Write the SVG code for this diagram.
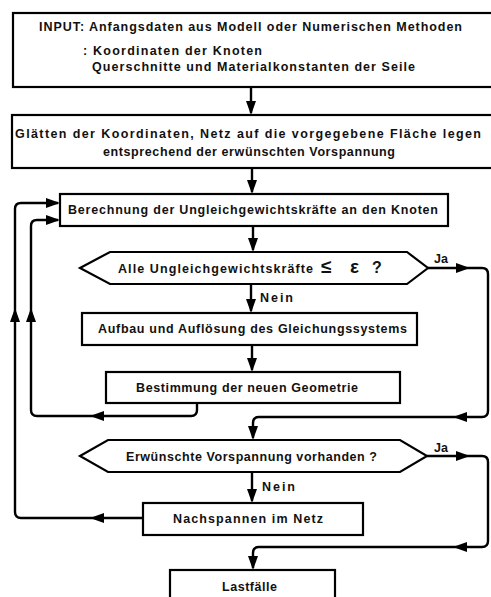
<svg xmlns="http://www.w3.org/2000/svg" xmlns:xlink="http://www.w3.org/1999/xlink" width="491" height="597" viewBox="0 0 491 597">
<style>
.box{fill:#fff;stroke:#000;stroke-width:2.2}
.ln{fill:none;stroke:#000;stroke-width:2.4;stroke-linejoin:round}
.t{font-family:"Liberation Sans",Arial,sans-serif;font-size:12.5px;font-weight:bold;fill:#111}
</style>
<defs>
<path id="ah" d="M0,0 L-14,-5 L-14,5 Z" fill="#000"/>
</defs>
<rect width="491" height="597" fill="#fff"/>
<g id="connectors">
<path class="ln" d="M251,87 V113"/>
<path class="ln" d="M252,168 V192"/>
<path class="ln" d="M253,226 V250"/>
<path class="ln" d="M251,284 V311"/>
<path class="ln" d="M252,345 V370"/>
<path class="ln" d="M252,472 V501"/>
<path class="ln" d="M428,268 H482 Q488,268 488,274 V411 Q488,417 482,417 H259 Q253,417 253,423 V438"/>
<path class="ln" d="M197,403 V410 Q197,416 191,416 H37 Q31,416 31,410 V226 Q31,220 37,220 H58"/>
<path class="ln" d="M143,518 H21 Q15,518 15,512 V209 Q15,203 21,203 H58"/>
<path class="ln" d="M427,456 H482 Q488,456 488,462 V541 Q488,547 482,547 H259 Q253,547 253,553 V568"/>
<use xlink:href="#ah" transform="translate(251,115) rotate(90)"/>
<use xlink:href="#ah" transform="translate(252,194) rotate(90)"/>
<use xlink:href="#ah" transform="translate(253,252) rotate(90)"/>
<use xlink:href="#ah" transform="translate(251,313) rotate(90)"/>
<use xlink:href="#ah" transform="translate(252,372) rotate(90)"/>
<use xlink:href="#ah" transform="translate(252,503) rotate(90)"/>
<use xlink:href="#ah" transform="translate(253,440) rotate(90)"/>
<use xlink:href="#ah" transform="translate(253,570) rotate(90)"/>
<use xlink:href="#ah" transform="translate(470,268)"/>
<use xlink:href="#ah" transform="translate(470,456)"/>
<use xlink:href="#ah" transform="translate(453,417) rotate(180)"/>
<use xlink:href="#ah" transform="translate(453,547) rotate(180)"/>
<use xlink:href="#ah" transform="translate(90,416) rotate(180)"/>
<use xlink:href="#ah" transform="translate(90,518) rotate(180)"/>
<use xlink:href="#ah" transform="translate(31,308) rotate(-90)"/>
<use xlink:href="#ah" transform="translate(15,308) rotate(-90)"/>
<use xlink:href="#ah" transform="translate(60,203)"/>
<use xlink:href="#ah" transform="translate(60,220)"/>
<text class="t" x="434" y="263" textLength="14">Ja</text>
<text class="t" x="434" y="452" textLength="14">Ja</text>
<text class="t" x="260" y="302" textLength="33">Nein</text>
<text class="t" x="262" y="491" textLength="33">Nein</text>
</g>
<g id="input">
<rect class="box" x="13" y="13" width="490" height="74"/>
<text class="t" x="39" y="31" textLength="423">INPUT: Anfangsdaten aus Modell oder Numerischen Methoden</text>
<text class="t" x="83" y="55" textLength="179">: Koordinaten der Knoten</text>
<text class="t" x="92" y="71" textLength="323">Querschnitte und Materialkonstanten der Seile</text>
</g>
<g id="glaetten">
<rect class="box" x="12" y="115" width="490" height="53"/>
<text class="t" x="15" y="138" textLength="466">Glätten der Koordinaten, Netz auf die vorgegebene Fläche legen</text>
<text class="t" x="103" y="156" textLength="292">entsprechend der erwünschten Vorspannung</text>
</g>
<g id="berechnung">
<rect class="box" x="60" y="194" width="388" height="32"/>
<text class="t" x="68" y="214" textLength="370">Berechnung der Ungleichgewichtskräfte an den Knoten</text>
</g>
<g id="entscheidung1">
<polygon class="box" points="80,268 110,252 407,252 428,268 407,284 110,284"/>
<text class="t" y="273"><tspan x="118" textLength="195">Alle Ungleichgewichtskräfte</tspan><tspan x="321" font-size="19">≤</tspan><tspan x="350" font-size="19">ε</tspan><tspan x="372" font-size="16">?</tspan></text>
</g>
<g id="aufbau">
<rect class="box" x="82" y="313" width="335" height="32"/>
<text class="t" x="98" y="333" textLength="309">Aufbau und Auflösung des Gleichungssystems</text>
</g>
<g id="geometrie">
<rect class="box" x="106" y="372" width="294" height="31"/>
<text class="t" x="136" y="392" textLength="222">Bestimmung der neuen Geometrie</text>
</g>
<g id="entscheidung2">
<polygon class="box" points="80,456 108,440 400,440 427,456 400,472 108,472"/>
<text class="t" x="126" y="461" textLength="251">Erwünschte Vorspannung vorhanden ?</text>
</g>
<g id="nachspannen">
<rect class="box" x="143" y="503" width="220" height="32"/>
<text class="t" x="173" y="523" textLength="150">Nachspannen im Netz</text>
</g>
<g id="lastfaelle">
<rect class="box" x="170" y="570" width="165" height="40"/>
<text class="t" x="222" y="591" textLength="55">Lastfälle</text>
</g>
</svg>
